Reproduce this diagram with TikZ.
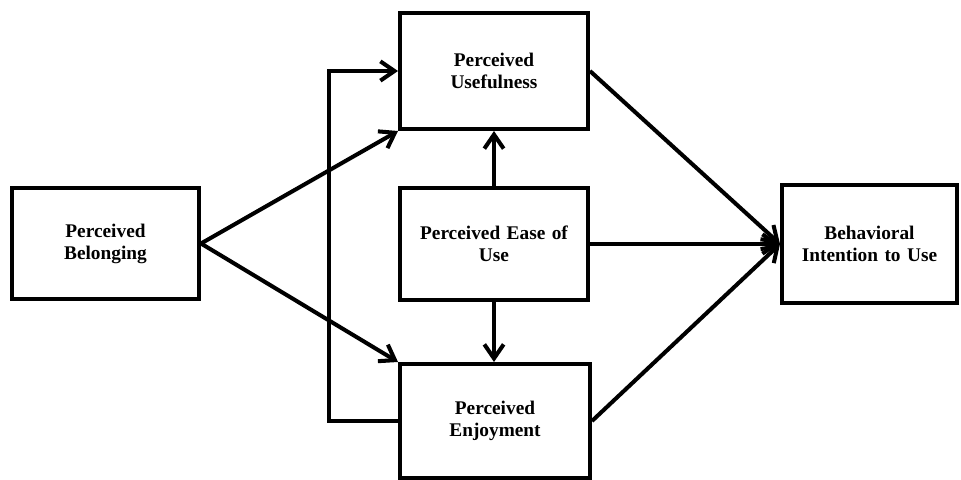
\documentclass[tikz,border=0pt]{standalone}
\usepackage{fontspec}
\setmainfont{Liberation Serif}
\usetikzlibrary{arrows.meta}

\begin{document}
\begin{tikzpicture}[
    x=0.02cm, y=-0.02cm,
    every node/.style={rectangle, draw=black, line width=2.3pt, text centered, text width=3.4cm, font=\bfseries\fontsize{11}{12.5}\selectfont},
    arrow/.style={-{Straight Barb[length=8pt, width=11pt]}, line width=2.3pt}
]
    \useasboundingbox (0,0) rectangle (961,480);
    \node[minimum width=3.74cm, minimum height=2.22cm] (belong) at (105.5,243.5) {Perceived\\Belonging};
    \node[minimum width=3.76cm, minimum height=2.32cm] (useful) at (494,71) {Perceived\\Usefulness};
    \node[minimum width=3.76cm, minimum height=2.24cm] (ease) at (494,244) {Perceived Ease of\\Use};
    \node[minimum width=3.8cm, minimum height=2.28cm] (enjoy) at (495,421) {Perceived\\Enjoyment};
    \node[minimum width=3.5cm, minimum height=2.36cm, text width=3.2cm] (intent) at (869.5,244) {Behavioral\\Intention to Use};

    \draw[arrow] (belong.east) -- (useful.south west);
    \draw[arrow] (belong.east) -- (enjoy.north west);
    \draw[arrow] (ease.north) -- (ease.north |- useful.south);
    \draw[arrow] (ease.south) -- (ease.south |- enjoy.north);
    \draw[arrow] (enjoy.west) -- ++(-69,0) |- (useful.west);
    \draw[arrow] (useful.east) -- (intent.west);
    \draw[arrow] (ease.east) -- (intent.west);
    \draw[arrow] (enjoy.east) -- (intent.west);
\end{tikzpicture}
\end{document}
